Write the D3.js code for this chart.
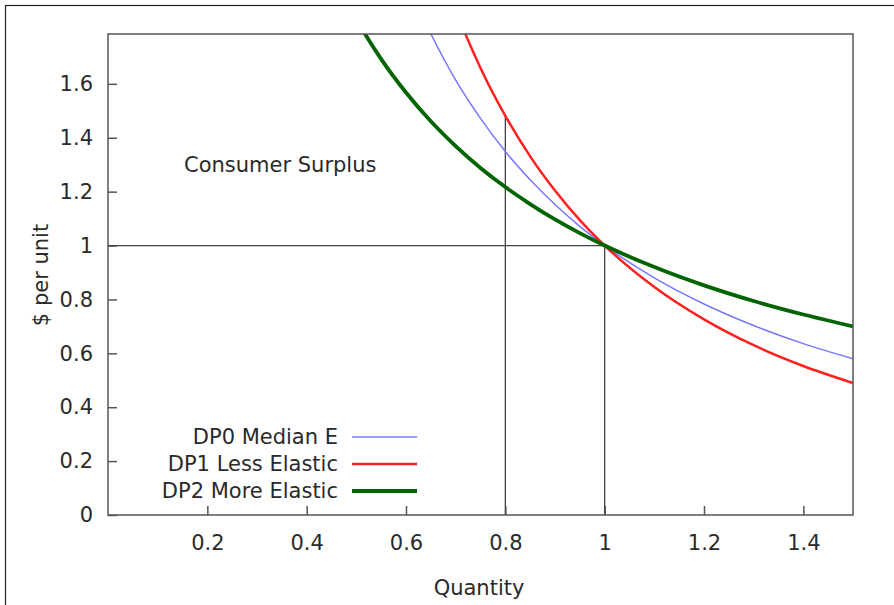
<!DOCTYPE html>
<html>
<head>
<meta charset="utf-8">
<script src="https://cdn.jsdelivr.net/npm/d3@7"></script>
<style>
  body { margin: 0; background: #fff; }
  text { font-family: "DejaVu Sans", sans-serif; fill: #2a2a2a; }
</style>
</head>
<body>
<div id="chart"></div>
<script>
// values (price per unit at each quantity)
var qBlue  = [0.60, 0.65, 0.70, 0.75, 0.80, 0.85, 0.90, 0.95, 1.00, 1.10, 1.20, 1.30, 1.40, 1.50];
var pBlue  = [1.986, 1.786, 1.614, 1.472, 1.349, 1.244, 1.152, 1.071, 1.000, 0.880, 0.783, 0.703, 0.636, 0.580];
var qRed   = [0.65, 0.70, 0.75, 0.80, 0.85, 0.90, 0.95, 1.00, 1.10, 1.20, 1.30, 1.40, 1.50];
var pRed   = [2.135, 1.874, 1.659, 1.481, 1.331, 1.204, 1.094, 1.000, 0.846, 0.726, 0.630, 0.553, 0.490];
var qGreen = [0.45, 0.50, 0.55, 0.60, 0.65, 0.70, 0.75, 0.80, 0.85, 0.90, 0.95, 1.00, 1.10, 1.20, 1.30, 1.40, 1.50];
var pGreen = [2.019, 1.840, 1.692, 1.568, 1.461, 1.369, 1.288, 1.217, 1.154, 1.097, 1.046, 1.000, 0.920, 0.852, 0.794, 0.744, 0.700];

var seriesNames = ["DP0 Median E", "DP1 Less Elastic", "DP2 More Elastic"];
var xTicks = [0.2, 0.4, 0.6, 0.8, 1, 1.2, 1.4];
var yTicks = [0, 0.2, 0.4, 0.6, 0.8, 1, 1.2, 1.4, 1.6];

// marked quantities and the price level
var refQ = [0.8, 1.0];
var refTop = [1.481, 1.0];
var refP = 1.0;

var W = 894, H = 605;
var margin = {top: 34, right: 41, bottom: 90, left: 108};
var width = W - margin.left - margin.right;
var height = H - margin.top - margin.bottom;

var svg = d3.select("#chart").append("svg")
    .attr("width", W).attr("height", H);

// picture frame
svg.append("rect")
    .attr("x", 5.5).attr("y", 5.5)
    .attr("width", W).attr("height", H)
    .attr("fill", "none").attr("stroke", "#222").attr("stroke-width", 1.2);

var g = svg.append("g")
    .attr("transform", "translate(" + margin.left + "," + margin.top + ")");

var x = d3.scaleLinear().domain([0, 1.5]).range([0, width]);
var y = d3.scaleLinear().domain([0, 1.785]).range([height, 0]);

g.append("clipPath").attr("id", "clip")
  .append("rect").attr("width", width).attr("height", height);

// axes with inward ticks
var xAxis = g.append("g")
    .attr("transform", "translate(0," + height + ")")
    .call(d3.axisBottom(x).tickValues(xTicks).tickSize(-9).tickPadding(20)
      .tickFormat(d3.format("")));
var yAxis = g.append("g")
    .call(d3.axisLeft(y).tickValues(yTicks).tickSize(-9).tickPadding(15)
      .tickFormat(d3.format("")));

[xAxis, yAxis].forEach(function(a) {
  a.select(".domain").remove();
  a.selectAll("line").attr("stroke", "#555").attr("stroke-width", 1.5);
  a.selectAll("text").style("font-size", "21px").attr("fill", "#2a2a2a");
});

// reference lines
g.append("line")
    .attr("x1", x(0)).attr("x2", x(1)).attr("y1", y(refP)).attr("y2", y(refP))
    .attr("stroke", "#444").attr("stroke-width", 1.3);
g.selectAll(".ref").data(refQ).enter().append("line")
    .attr("class", "ref")
    .attr("x1", function(d) { return x(d); }).attr("x2", function(d) { return x(d); })
    .attr("y1", y(0)).attr("y2", function(d, i) { return y(refTop[i]); })
    .attr("stroke", "#444").attr("stroke-width", 1.3);

// curves
var series = [
  {q: qBlue,  p: pBlue,  color: "#7777ff", w: 1.5},
  {q: qRed,   p: pRed,   color: "#ff2020", w: 2.5},
  {q: qGreen, p: pGreen, color: "#006400", w: 3.8}
];

var line = d3.line()
    .x(function(d) { return x(d[0]); })
    .y(function(d) { return y(d[1]); })
    .curve(d3.curveMonotoneX);

var curves = g.append("g").attr("clip-path", "url(#clip)");
series.forEach(function(s) {
  curves.append("path")
      .datum(d3.zip(s.q, s.p))
      .attr("d", line)
      .attr("fill", "none")
      .attr("stroke", s.color)
      .attr("stroke-width", s.w);
});

// frame of plot area
g.append("rect")
    .attr("width", width).attr("height", height)
    .attr("fill", "none").attr("stroke", "#555").attr("stroke-width", 1.5);

// labels
g.append("text")
    .attr("x", 76).attr("y", 138)
    .style("font-size", "21px")
    .text("Consumer Surplus");

svg.append("text")
    .attr("transform", "translate(48,275) rotate(-90)")
    .attr("text-anchor", "middle")
    .style("font-size", "21px")
    .text("$ per unit");

svg.append("text")
    .attr("x", 479).attr("y", 595)
    .attr("text-anchor", "middle")
    .style("font-size", "21px")
    .text("Quantity");

// legend
var legend = svg.append("g");
series.forEach(function(s, i) {
  var ly = 437 + i * 27;
  legend.append("text")
      .attr("x", 338).attr("y", ly)
      .attr("dy", "0.35em")
      .attr("text-anchor", "end")
      .style("font-size", "21px")
      .text(seriesNames[i]);
  legend.append("line")
      .attr("x1", 352).attr("x2", 417).attr("y1", ly).attr("y2", ly)
      .attr("stroke", s.color).attr("stroke-width", s.w);
});
</script>
</body>
</html>
